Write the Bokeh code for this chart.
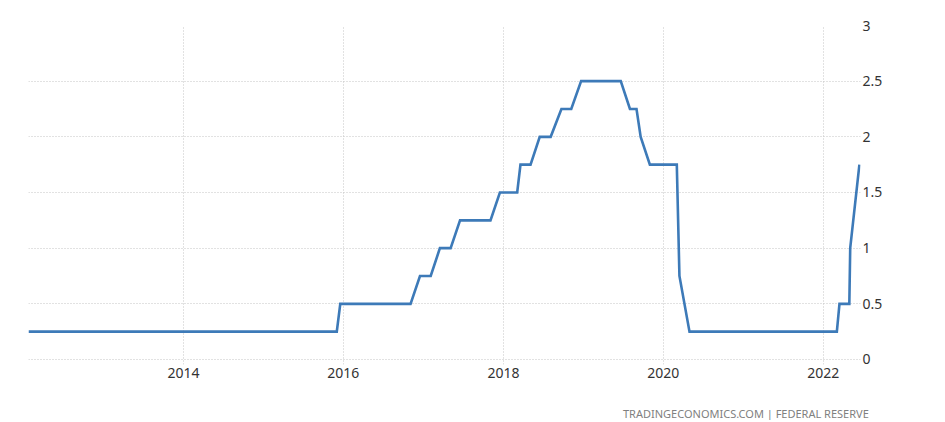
import pandas as pd
from bokeh.plotting import figure
from bokeh.models import (ColumnDataSource, FixedTicker, DatetimeTickFormatter,
                          Range1d, Title)
from bokeh.embed import file_html
from bokeh.resources import INLINE

# Fed funds rate (upper bound, %) – change points
dates = ["2012-01-24", "2015-12-02", "2015-12-18", "2016-11-03", "2016-12-16",
         "2017-02-03", "2017-03-17", "2017-05-05", "2017-06-17", "2017-11-03",
         "2017-12-16", "2018-03-05", "2018-03-20", "2018-05-05", "2018-06-16",
         "2018-08-05", "2018-09-23", "2018-11-07", "2018-12-22", "2019-06-21",
         "2019-08-02", "2019-09-01", "2019-09-20", "2019-11-01", "2020-03-03",
         "2020-03-15", "2020-04-30", "2022-03-04", "2022-03-16", "2022-04-30",
         "2022-05-04", "2022-06-15"]
values = [0.25, 0.25, 0.5, 0.5, 0.75,
          0.75, 1.0, 1.0, 1.25, 1.25,
          1.5, 1.5, 1.75, 1.75, 2.0,
          2.0, 2.25, 2.25, 2.5, 2.5,
          2.25, 2.25, 2.0, 1.75, 1.75,
          0.75, 0.25, 0.25, 0.5, 0.5,
          1.0, 1.75]
year_ticks = [2014, 2016, 2018, 2020, 2022]
y_ticks = [0, 0.5, 1, 1.5, 2, 2.5, 3]
source_text = "TRADINGECONOMICS.COM  |  FEDERAL RESERVE"

dt = pd.to_datetime(dates)
src = ColumnDataSource(dict(x=dt, y=values))

x_start = dt[0]
x_end = dt[-1] + pd.Timedelta(days=5)

p = figure(width=920, height=420, x_axis_type="datetime", output_backend="svg",
           toolbar_location=None, x_range=Range1d(x_start, x_end),
           y_range=Range1d(-0.045, 3), y_axis_location="right")
p.min_border_left = 28
p.min_border_top = 25
p.min_border_bottom = 56
p.min_border_right = 60
p.outline_line_color = None
p.background_fill_color = "white"
p.border_fill_color = "white"

p.line("x", "y", source=src, line_color="#3d7ab8", line_width=2.6, line_join="miter")

tick_ms = [pd.Timestamp(f"{y}-01-01").value / 1e6 for y in year_ticks]
xa = p.xaxis[0]
xa.ticker = FixedTicker(ticks=tick_ms)
xa.formatter = DatetimeTickFormatter(years="%Y", months="%Y", days="%Y", hours="%Y")
ya = p.yaxis[0]
ya.ticker = FixedTicker(ticks=y_ticks)

for ax in (xa, ya):
    ax.axis_line_color = None
    ax.major_tick_line_color = None
    ax.minor_tick_line_color = None
    ax.major_tick_out = 0
    ax.major_tick_in = 0
    ax.major_label_text_font = "Noto Sans"
    ax.major_label_text_font_size = "14px"
    ax.major_label_text_color = "#333333"
xa.major_label_standoff = 3
ya.major_label_standoff = 2

for g in (p.xgrid[0], p.ygrid[0]):
    g.grid_line_color = "#c4c4c4"
    g.grid_line_dash = "1 2"
    g.grid_line_width = 1

foot = Title(text="\n" + source_text, align="right", offset=-14, standoff=0,
             text_font="Noto Sans", text_font_size="11px", text_font_style="normal",
             text_color="#808080", text_line_height=1.5)
p.add_layout(foot, "below")

open("out.html", "w").write(file_html(p, INLINE))
